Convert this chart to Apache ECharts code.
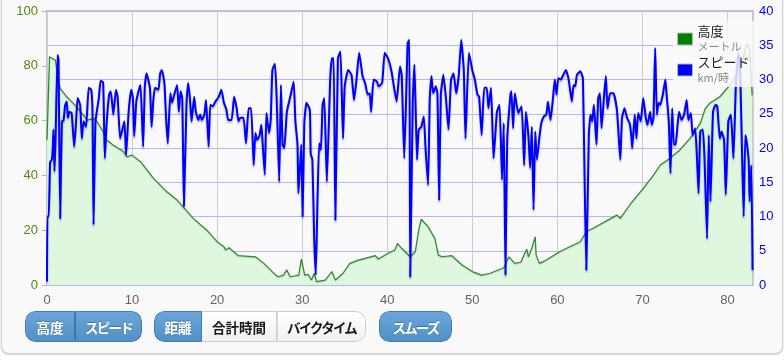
<!DOCTYPE html>
<html>
<head>
<meta charset="utf-8">
<script src="https://cdn.jsdelivr.net/npm/echarts@6/dist/echarts.min.js"></script>
<style>
  html, body { margin:0; padding:0; background:#fff; width:784px; height:360px; overflow:hidden; }
  #panel { position:absolute; left:1px; top:-10px; width:780px; height:362px; border:1px solid #cdcdcd; border-radius:8px; background:#f9f9f9; box-shadow:0 1px 2px rgba(0,0,0,0.18); }
  #chart { position:absolute; left:0; top:0; width:784px; height:360px; }
  .grp { position:absolute; top:311px; height:31px; display:flex; border-radius:10px; overflow:hidden; box-sizing:border-box; }
  .btn { height:31px; box-sizing:border-box; display:flex; align-items:center; justify-content:center; font-family:"Noto Sans CJK JP", sans-serif; font-weight:bold; font-size:13.5px; }
  .blue { background:linear-gradient(#6aa6d8, #5190c6); color:#fff; border:1px solid #3f7cb2; text-shadow:0 -1px 0 rgba(0,0,0,0.25); }
  .white { background:linear-gradient(#ffffff, #f1f1f1); color:#1a1a1a; border:1px solid #cccccc; }
  .kata { letter-spacing:-1.8px; }
</style>
</head>
<body>
<div id="panel"></div>
<div id="chart"></div>
<div class="grp" style="left:25px;">
  <div class="btn blue" style="width:50px;border-radius:10px 0 0 10px;">高度</div>
  <div class="btn blue kata" style="width:67px;border-left:1px solid #3a73a6;border-radius:0 10px 10px 0;">スピード</div>
</div>
<div class="grp" style="left:154px;">
  <div class="btn blue" style="width:48px;border-radius:10px 0 0 10px;">距離</div>
  <div class="btn white" style="width:75px;border-left:none;">合計時間</div>
  <div class="btn white kata" style="width:89px;border-left:1px solid #dcdcdc;border-radius:0 10px 10px 0;">バイクタイム</div>
</div>
<div class="grp" style="left:379px;">
  <div class="btn blue kata" style="width:73px;border-radius:10px;">スムーズ</div>
</div>
<script>
// ---- data ----
const xTicks = [0, 10, 20, 30, 40, 50, 60, 70, 80];
const xMax = 83;
const altTicks = [0, 20, 40, 60, 80, 100];
const spdTicks = [0, 5, 10, 15, 20, 25, 30, 35, 40];

const altKm = [0,0.3,0.76,1.0,1.24,1.55,2.33,3.1,3.5,4.3,4.7,5.5,5.9,6.6,7.0,7.8,9.0,9.4,10,11,12.5,14.1,15.3,16.5,17.2,18.8,20,20.8,21,21.4,22.5,24.5,25.5,26.9,27.2,27.8,28.2,28.6,29.6,29.9,30.3,30.7,31.1,31.4,31.7,32.7,33.5,33.7,33.9,34.8,35.6,36.6,38.6,38.96,39.4,40.1,40.9,41.2,41.7,42.7,43.3,43.7,44.0,44.8,45.6,46.0,46.4,47.6,48.8,50.0,51.1,52.1,53.7,54.3,55.0,55.7,56.4,56.6,57.0,57.4,57.5,57.9,58.7,60.3,62.7,63.4,64.2,67.0,67.4,68.5,70.1,71.3,72.1,73.2,74.4,75.6,76.8,77.4,77.9,79.1,80.3,81.5,82.3,82.6,82.9];
const altM = [53,83.3,82.5,82,76.6,71.8,68.7,66.3,65,62,60.2,60.8,59.6,56,53,51,48.7,46.8,47.4,45,39,34,31,26.8,24.3,20,15.8,14,12.8,13.6,10.7,10.3,7.9,3.6,3,3.6,5.5,3,3.6,9.5,3.6,3.9,1.8,4.3,1.2,1.8,4.9,5.5,1.8,4.3,7.9,9.1,10.7,9.5,10.3,11.6,12.8,15.2,13.4,10.3,12.2,20,24,21.3,17,11,10.3,10.7,7.3,4.9,3.6,4.3,6.3,10.3,7.9,8.3,13.1,10.3,13.4,17.6,11,7.9,9.1,12.2,15.8,19.5,20.7,25.5,24.3,29.2,35.3,40.1,43.8,46.2,49.3,53.5,59,64.5,66.3,68.7,73,79,88.2,86.4,69.3];

const spdKm = [0,0.05,0.2,0.37,0.57,0.68,0.76,0.88,1.0,1.24,1.35,1.55,1.75,1.94,2.14,2.33,2.45,2.65,2.9,3.2,3.4,3.6,3.9,4.1,4.3,4.6,4.9,5.2,5.35,5.47,5.7,6.1,6.3,6.6,6.8,7.0,7.3,7.5,7.8,8.1,8.3,8.6,8.9,9.1,9.3,9.6,9.9,10.1,10.25,10.5,10.8,11.0,11.3,11.5,11.7,12.1,12.3,12.5,12.7,13.1,13.3,13.5,13.8,14.0,14.2,14.5,14.7,15.0,15.3,15.5,15.7,15.9,16.1,16.4,16.6,16.8,17.0,17.3,17.5,17.8,18.0,18.2,18.5,18.7,19.0,19.2,19.5,19.8,20.2,20.5,20.8,21.1,21.3,21.7,22.0,22.3,22.5,22.7,23.1,23.4,23.7,24.0,24.3,24.5,24.7,25.0,25.2,25.3,25.6,25.8,26.1,26.3,26.5,26.8,27.0,27.3,27.5,27.7,27.9,28.2,28.6,29.0,29.2,29.45,29.55,29.7,29.9,30.05,30.25,30.5,30.9,31.0,31.2,31.4,31.6,31.8,32.0,32.2,32.4,32.6,32.9,33.3,33.5,33.7,33.9,34.2,34.5,34.8,35.0,35.4,35.8,36.1,36.4,36.7,37.1,37.4,37.7,37.95,38.1,38.4,38.8,38.96,39.4,39.7,40.1,40.5,41.1,41.5,41.7,42.0,42.4,42.6,42.7,43.0,43.2,43.5,43.7,44.0,44.3,44.5,44.8,45.0,45.2,45.4,45.7,45.9,46.1,46.3,46.6,46.9,47.2,47.5,47.8,48.1,48.4,48.7,49.0,49.2,49.6,50.0,50.3,50.6,50.8,51.1,51.4,51.7,51.9,52.2,52.5,52.9,53.2,53.5,53.7,53.9,54.1,54.5,54.6,54.8,55.0,55.4,55.8,56.1,56.3,56.6,56.8,57.0,57.2,57.4,57.6,57.9,58.1,58.4,58.7,58.9,59.2,59.5,59.7,59.9,60.1,60.4,60.7,61.0,61.3,61.5,61.7,61.9,62.1,62.3,62.7,63.0,63.4,63.7,63.9,64.1,64.3,64.6,64.8,65.0,65.2,65.5,65.7,65.9,66.2,66.6,67.0,67.2,67.4,67.6,67.9,68.2,68.5,68.7,68.8,69.1,69.3,69.5,69.8,70.1,70.4,70.6,70.9,71.1,71.3,71.5,71.7,71.9,72.1,72.4,72.7,72.8,73.1,73.3,73.5,73.7,73.9,74.1,74.3,74.6,74.9,75.2,75.4,75.7,75.9,76.2,76.4,76.6,76.8,77.1,77.3,77.6,77.8,78.0,78.3,78.6,78.8,79.1,79.3,79.6,79.8,80.1,80.4,80.7,81.0,81.3,81.5,81.7,81.9,82.1,82.3,82.5,82.6,82.8,82.95];
const spdKmh = [0.5,10,10,18,18.3,20,22.7,16.6,21,33.6,33,9.7,23.9,24,26.3,26.8,24.4,25.3,25.1,20.2,23.4,27.3,26.3,21.4,23.9,23.1,28.8,28.5,25.3,8.8,23.9,27.3,29.8,29.6,18.5,23.4,27.8,28.3,24.9,28.5,27.5,21.4,22.9,23.9,19,25.3,28.5,27.3,21.7,26.8,28.5,29.2,20.2,29,30.9,28.8,23.1,27,28.8,28.5,30.9,31.4,29.5,24.4,20.7,28,26.6,28,29.2,25.3,28.3,27.3,11.5,26.6,29.5,27.3,23.9,27.5,25.3,24.1,24.9,24.1,24.9,27,20.2,26.3,26.1,26.8,27.5,28.5,26.6,25.6,24.1,24.1,27.5,25.8,23.9,24.4,24.4,20.7,25.8,25.8,17.5,22.2,21.2,21.9,23.4,21.7,16.1,25.1,22.2,24.1,31.4,32.3,27.3,15.1,29.2,20.5,20,25.3,27.5,29.7,23.9,20.5,13.4,16.3,20.5,10,23.6,26.6,25.6,19.2,18.3,7.3,1.5,12.4,20.7,19.7,26.3,27.3,15.1,30.2,33.1,33.1,9.5,33.1,34.1,21.4,29,31.4,30.7,27,30.2,33.9,30.5,29.5,27.8,28,25.3,30,29.7,29,29.5,33.9,33.1,31.2,26.8,31.9,30.7,18.5,35.3,35.8,1.2,26.8,32.2,18.3,22.7,23.1,24.6,20,14.6,27.3,30.5,28,29,28,12.4,27.8,30.7,27.3,22.7,30,30.9,28,30.5,35.8,31.4,21.4,33.9,31.4,30,27.8,27.5,21.9,28.8,28.8,25.8,28.8,18.5,25.3,26.3,15.4,23.6,1.5,21,28,28.3,22.9,28,25.1,26.1,17.5,25.3,21.7,17.1,23.1,11,22.4,18.3,21.7,23.6,24.6,24.9,26.8,24.1,27.5,30,27.8,30.2,30,30.7,31.4,30.2,28.5,26.8,29.2,29,30.7,31.2,30.2,2.2,21.9,24.9,23.9,26.3,20.5,27.3,28,22.9,27.8,30.5,25.8,28,28,25.6,21.9,18.3,24.4,25.8,24.4,23.6,21.7,20,24.9,21.4,25.1,23.9,27.3,24.4,23.4,25.3,23.4,24.4,34.6,24.9,26.6,26.3,27.8,30,28.5,23.9,16.3,25.8,20.5,20.5,22.9,25.3,24.1,24.9,27,24.1,25.1,21.9,22.9,19,13.4,22.4,22.7,18.5,6.8,21.9,12.2,25.3,26.3,26.1,21.4,22.4,21.2,13.2,23.9,24.9,18.5,29.7,33.9,30.7,20,10,21.9,20.5,18,12.2,17.5,2.2];

// ---- chart ----
const chart = echarts.init(document.getElementById('chart'), null, { renderer: 'canvas' });
const numFont = '"Liberation Sans", Arial, sans-serif';
const jpFont = '"Noto Sans CJK JP", sans-serif';

const option = {
  animation: false,
  backgroundColor: 'transparent',
  grid: { left: 47, right: 31, top: 11, bottom: 75, show: true, borderColor: '#c6c6c6', borderWidth: 2, backgroundColor: 'transparent' },
  legend: {
    orient: 'vertical',
    left: 673, top: 21,
    padding: [4, 5, 4, 4],
    itemGap: 4,
    itemWidth: 15, itemHeight: 12,
    icon: 'rect',
    backgroundColor: 'rgba(250,250,250,0.82)',
    selectedMode: false,
    data: [
      { name: '高度', itemStyle: { color: '#008000', borderColor: '#b8b8b8', borderWidth: 1 } },
      { name: 'スピード', itemStyle: { color: '#0000ff', borderColor: '#b8b8b8', borderWidth: 1 } }
    ],
    formatter: function (name) {
      return name === '高度' ? '{a|高度}\n{b|メートル}' : '{a|スピード}\n{b|km/時}';
    },
    textStyle: {
      rich: {
        a: { fontSize: 13, color: '#222', fontFamily: jpFont, lineHeight: 15 },
        b: { fontSize: 11, color: '#8a8a8a', fontFamily: jpFont, lineHeight: 15 }
      }
    }
  },
  xAxis: {
    type: 'value',
    min: xTicks[0], max: xMax, interval: xTicks[1] - xTicks[0],
    axisLine: { show: false },
    axisTick: { show: false },
    splitLine: { show: true, lineStyle: { color: '#cdcdcd', width: 1 } },
    axisLabel: {
      color: '#6b6158', fontSize: 13, fontFamily: numFont, margin: 9,
      formatter: v => (xTicks.indexOf(v) >= 0 ? String(v) : '')
    }
  },
  yAxis: [
    {
      type: 'value', position: 'left',
      min: altTicks[0], max: altTicks[altTicks.length - 1], interval: altTicks[1] - altTicks[0],
      axisLine: { show: false },
      axisTick: { show: true, length: 5, lineStyle: { color: '#b5b5b5' } },
      splitLine: { show: false },
      axisLabel: { color: '#4f8a10', fontSize: 13, fontFamily: numFont, margin: 9 }
    },
    {
      type: 'value', position: 'right',
      min: spdTicks[0], max: spdTicks[spdTicks.length - 1], interval: spdTicks[1] - spdTicks[0],
      axisLine: { show: false },
      axisTick: { show: false },
      splitLine: { show: true, lineStyle: { color: '#b4b8f2', width: 1 } },
      axisLabel: { color: '#0000ff', fontSize: 13, fontFamily: numFont, margin: 6 }
    }
  ],
  series: [
    {
      name: '高度', type: 'line', yAxisIndex: 0,
      data: altKm.map((k, i) => [k, altM[i]]),
      symbol: 'none', z: 1,
      itemStyle: { color: '#008000' },
      lineStyle: { color: '#2a8a2a', width: 1.2, shadowColor: 'rgba(0,0,0,0.15)', shadowBlur: 1, shadowOffsetY: 1 },
      areaStyle: { color: '#dff7df', opacity: 1 }
    },
    {
      name: 'スピード', type: 'line', yAxisIndex: 1,
      data: spdKm.map((k, i) => [k, spdKmh[i]]),
      symbol: 'none', z: 3, smooth: 0.15,
      itemStyle: { color: '#0000ff' },
      lineStyle: { color: '#0000ff', width: 2, shadowColor: 'rgba(0,0,0,0.3)', shadowBlur: 2, shadowOffsetY: 2 }
    }
  ]
};
chart.setOption(option);
</script>
</body>
</html>
